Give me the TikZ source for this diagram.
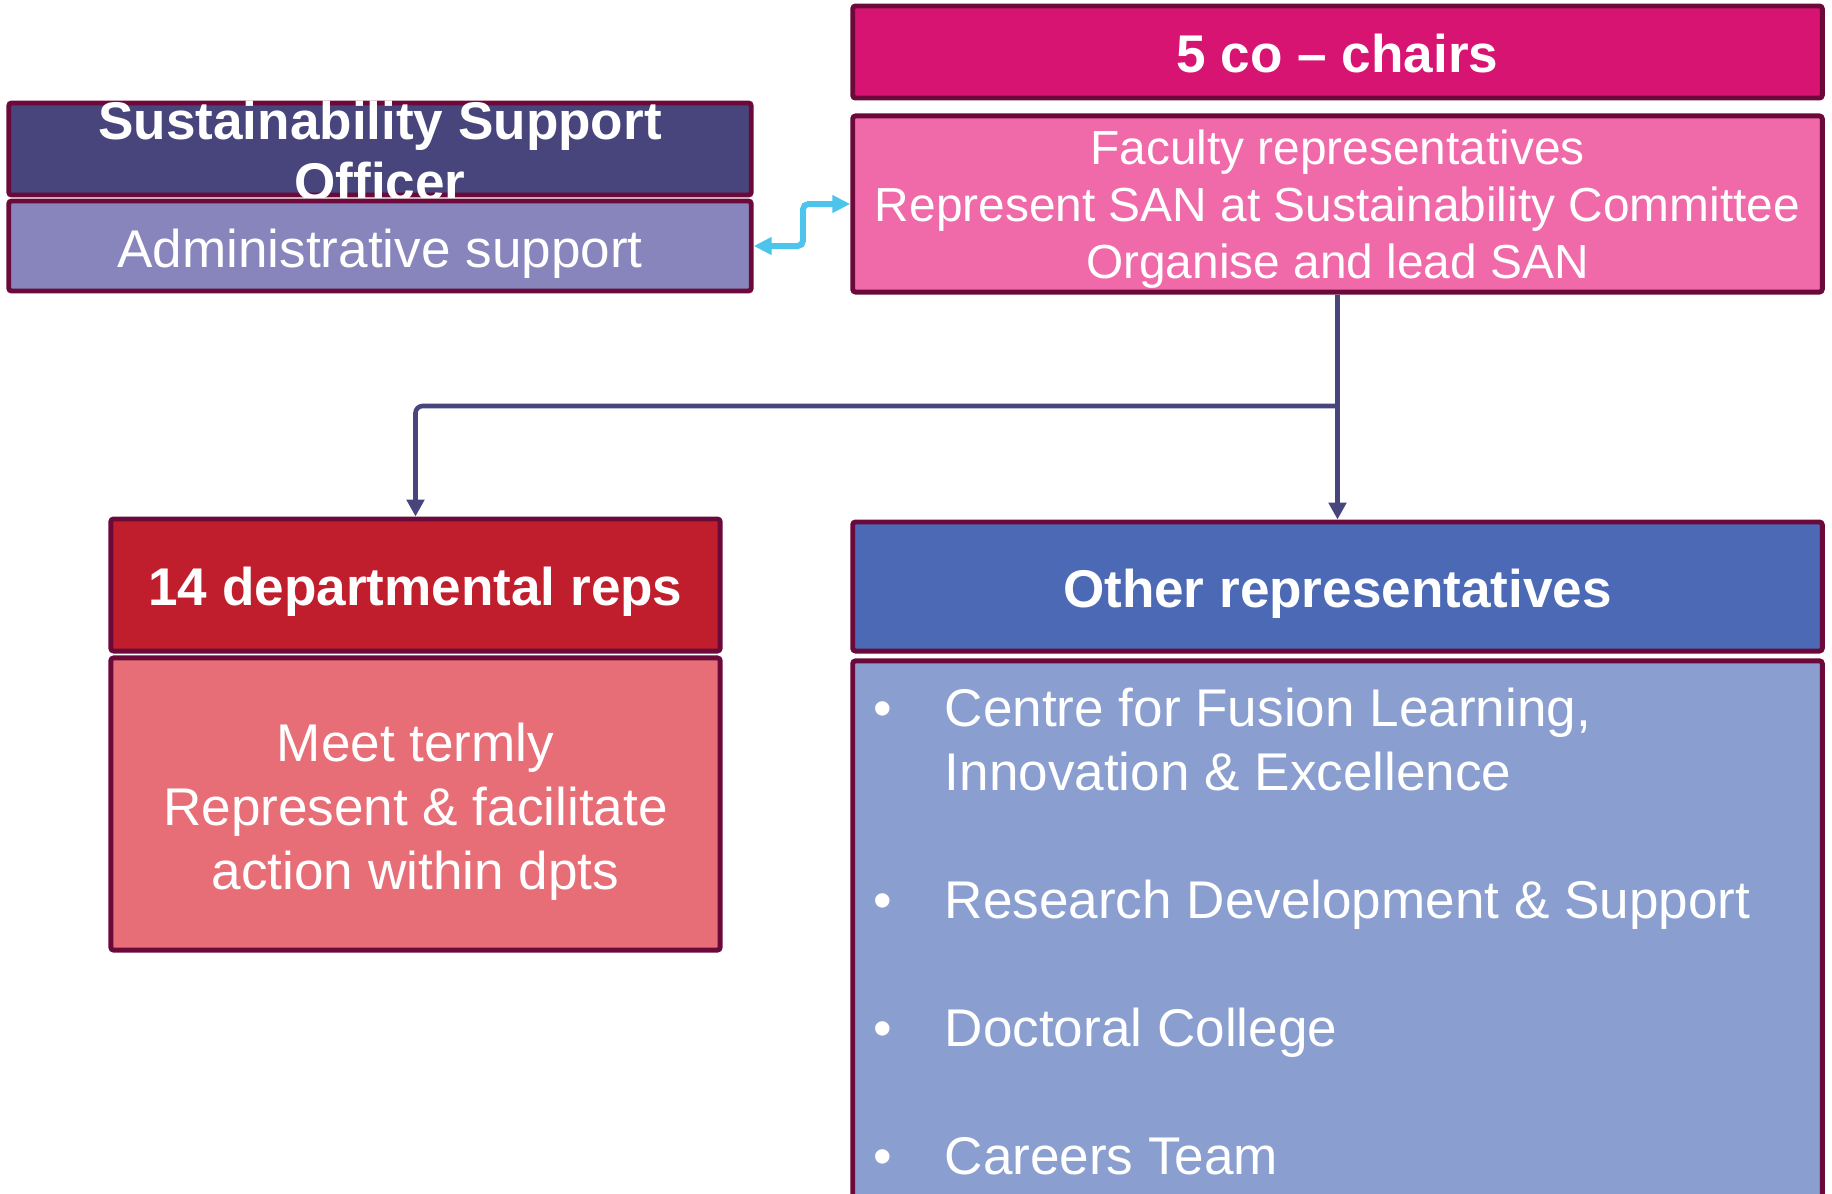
\documentclass[tikz,border=0pt]{standalone}
\usepackage{fontspec}
\setmainfont{Liberation Sans}
\usetikzlibrary{arrows.meta}
\definecolor{rim}{RGB}{107,10,58}
\definecolor{chairfill}{RGB}{216,20,115}
\definecolor{facultyfill}{RGB}{240,106,170}
\definecolor{officerfill}{RGB}{72,68,124}
\definecolor{adminfill}{RGB}{136,132,188}
\definecolor{deptfill}{RGB}{192,30,45}
\definecolor{deptbodyfill}{RGB}{231,110,118}
\definecolor{othersfill}{RGB}{75,105,180}
\definecolor{othersbodyfill}{RGB}{138,158,208}
\definecolor{linkcol}{RGB}{72,68,124}
\definecolor{swapcol}{RGB}{76,196,236}
\newcommand{\boxlines}[1]{\smash{\raisebox{-0.4em}{\begin{tabular}{@{}c@{}}#1\end{tabular}}}}
\begin{document}
\begin{tikzpicture}[x=0.01cm, y=-0.01cm,
  box/.style={draw=rim, line width=1.4pt, rounded corners=0.8pt, text=white, inner sep=0pt},
  head/.style={box, font=\fontsize{15.1}{17.6}\selectfont\bfseries},
  body/.style={box, font=\fontsize{15.1}{18.2}\selectfont},
  items/.style={text=white, align=left, inner sep=0pt, font=\fontsize{15.1}{18.2}\selectfont},
  down/.style={draw=linkcol, line width=1.3pt, rounded corners=2pt, -{Triangle[length=4.8pt,width=4.9pt]}},
  swapline/.style={draw=swapcol, line width=1.7pt, rounded corners=1.5pt, {Triangle[length=5.1pt,width=4.8pt]}-{Triangle[length=5.1pt,width=4.8pt]}}]
\useasboundingbox (0,0) rectangle (1832,1193);
\clip (0,0) rectangle (1832,1193);
\node[head, fill=chairfill, minimum width=9.69cm, minimum height=0.92cm] (chairs) at (1337.5,52) {\boxlines{5 co – chairs}};
\node[body, fill=facultyfill, font=\fontsize{13.6}{16.2}\selectfont, minimum width=9.69cm, minimum height=1.76cm] (faculty) at (1337.5,204) {\boxlines{Faculty representatives\\Represent SAN at Sustainability Committee\\Organise and lead SAN}};
\node[head, fill=officerfill, minimum width=7.42cm, minimum height=0.92cm] (officer) at (380,149) {\boxlines{Sustainability Support\\Officer}};
\node[body, fill=adminfill, minimum width=7.42cm, minimum height=0.90cm] (admin) at (380,246) {\boxlines{Administrative support}};
\node[head, fill=deptfill, minimum width=6.09cm, minimum height=1.32cm] (dept) at (415.5,585) {\boxlines{14 departmental reps}};
\node[body, fill=deptbodyfill, minimum width=6.09cm, minimum height=2.92cm] (deptbody) at (415.5,804) {\boxlines{Meet termly\\Represent \& facilitate\\action within dpts}};
\node[head, fill=othersfill, minimum width=9.69cm, minimum height=1.29cm] (others) at (1337.5,586.5) {\boxlines{Other representatives}};
\node[box, fill=othersbodyfill, minimum width=9.69cm, minimum height=5.8cm] (othersbody) at (1337.5,951) {};
\node[items, anchor=north west] (otherslist) at (873,687) {\makebox[0.71cm][l]{•}Centre for Fusion Learning,\\
\hspace*{0.71cm}Innovation \& Excellence\\[18.2pt]
\makebox[0.71cm][l]{•}Research Development \& Support\\[18.2pt]
\makebox[0.71cm][l]{•}Doctoral College\\[18.2pt]
\makebox[0.71cm][l]{•}Careers Team};
\coordinate (split) at (1337.5,406);
\coordinate (kink) at (803,225);
\draw[down](faculty.south) -- (others.north);
\draw[down](split) -| (dept.north);
\draw[swapline](admin.east) -| (kink) |- (faculty.west);
\end{tikzpicture}
\end{document}
